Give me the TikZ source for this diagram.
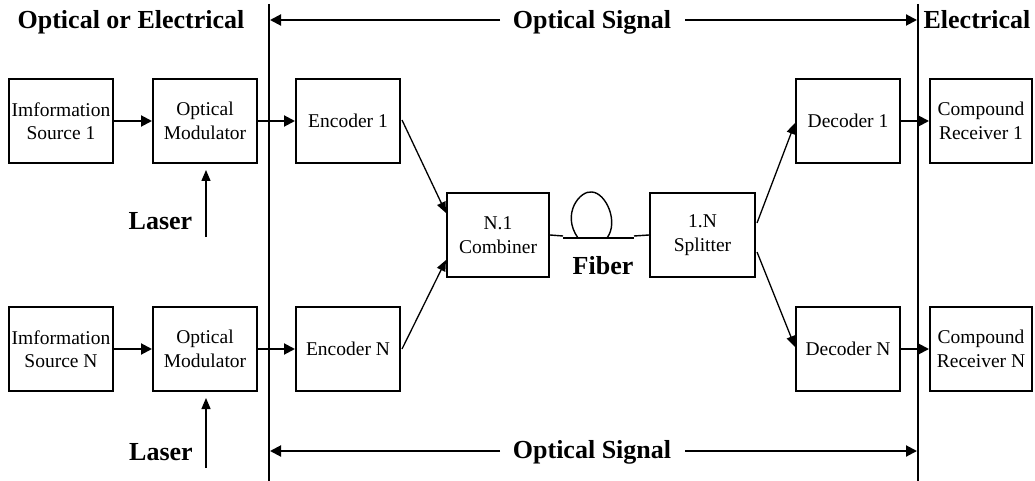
\documentclass[tikz,border=0pt]{standalone}
\usepackage{fontspec}
\setmainfont{Liberation Serif}
\usetikzlibrary{arrows.meta,calc}
\tikzset{
  blk/.style={draw, line width=2pt, minimum width=104pt, minimum height=84pt, inner sep=1pt, align=center, font=\fontsize{19.5}{23.5}\selectfont},
  hdr/.style={font=\fontsize{26}{30}\selectfont\bfseries, anchor=base, inner sep=0pt},
  arr/.style={line width=2pt, -{Triangle[length=11pt,width=11pt]}},
  darr/.style={line width=1.3pt, -{Triangle[length=11pt,width=9pt]}},
  sep/.style={line width=1.6pt},
  harr/.style={line width=2pt, -{Triangle[length=11pt,width=11pt]}},
  fib/.style={line width=1.4pt}
}
\begin{document}
\begin{tikzpicture}[x=1pt,y=-1pt]
\useasboundingbox (0,0) rectangle (1035,481);
% boxes
\node[blk] (is1) at (61,121) {Imformation\\Source 1};
\node[blk] (om1) at (205,121) {Optical\\Modulator};
\node[blk] (enc1) at (348,121) {Encoder 1};
\node[blk] (dec1) at (848,121) {Decoder 1};
\node[blk, minimum width=102pt] (rec1) at (981,121) {Compound\\Receiver 1};
\node[blk] (isN) at (61,349) {Imformation\\Source N};
\node[blk] (omN) at (205,349) {Optical\\Modulator};
\node[blk] (encN) at (348,349) {Encoder N};
\node[blk] (decN) at (848,349) {Decoder N};
\node[blk, minimum width=102pt] (recN) at (981,349) {Compound\\Receiver N};
\node[blk, minimum width=102pt] (comb) at (498,235) {N.1\\Combiner};
\node[blk, minimum width=105pt] (split) at (702.5,235) {1.N\\Splitter};
% labels
\node[hdr] (hl) at (131,29) {Optical or Electrical};
\node[hdr] (ht) at (592,29) {Optical Signal};
\node[hdr] (he) at (977,28.5) {Electrical};
\node[hdr] (hb) at (592,458) {Optical Signal};
\node[hdr] (las1) at (160.5,229) {Laser};
\node[hdr] (lasN) at (161,460) {Laser};
\node[hdr] (fiber) at (603,274) {Fiber};
% separators
\coordinate (v1t) at (269,4); \coordinate (v1b) at (269,481);
\coordinate (v2t) at (918,4); \coordinate (v2b) at (918,481);
\draw[sep] (v1t) -- (v1b);
\draw[sep] (v2t) -- (v2b);
% header arrows
\coordinate (tl) at (500,20); \coordinate (tle) at (270,20);
\coordinate (tr) at (685,20); \coordinate (tre) at (917,20);
\draw[harr] (tl) -- (tle);
\draw[harr] (tr) -- (tre);
\coordinate (bl) at (500,451); \coordinate (ble) at (270,451);
\coordinate (br) at (685,451); \coordinate (bre) at (917,451);
\draw[harr] (bl) -- (ble);
\draw[harr] (br) -- (bre);
% horizontal flow
\draw[arr] (is1) -- (om1);
\draw[arr] (om1) -- (enc1);
\draw[arr] (isN) -- (omN);
\draw[arr] (omN) -- (encN);
\draw[arr] (dec1) -- (rec1);
\draw[arr] (decN) -- (recN);
% lasers
\coordinate (l1) at (206,237);
\coordinate (lN) at (206,468);
\draw[darr, shorten >=6pt] (l1) -- (l1 |- om1.south);
\draw[darr, shorten >=6pt] (lN) -- (lN |- omN.south);
% diagonals
\draw[darr] ($(enc1.east)+(1,-1)$) -- ($(comb.west)+(0,-22)$);
\draw[darr] ($(encN.east)+(1,0)$) -- ($(comb.west)+(0,25)$);
\draw[darr] ($(split.east)+(1,-12)$) -- ($(dec1.west)+(0,2)$);
\draw[darr] ($(split.east)+(1,17)$) -- ($(decN.west)+(0,-2)$);
% fiber
\coordinate (f1) at (563,236); \coordinate (f2) at (634,236);
\draw[fib] (comb.east) -- (f1);
\draw[fib] (f2) -- (split.west);
\draw[line width=2.4pt] (563,238) -- (634,238);
\draw[fib] (578,238) .. controls (561,214) and (580,190) .. (592,192) .. controls (606,193) and (619,222) .. (607,238);
\end{tikzpicture}
\end{document}
